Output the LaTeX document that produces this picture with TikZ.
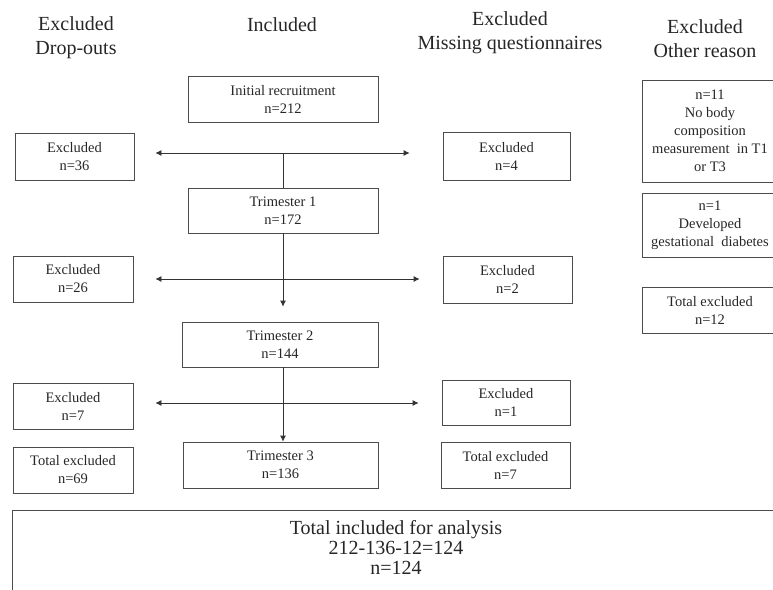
\documentclass[tikz,border=0pt]{standalone}
\usepackage{fontspec}
\setmainfont{Liberation Serif}
\usetikzlibrary{arrows.meta}
\begin{document}
\begin{tikzpicture}[x=1pt,y=-1pt,
  box/.style={draw=black!70, line width=0.8pt, inner sep=0pt, align=center, text=black!85, font=\fontsize{14.5}{18}\selectfont},
  head/.style={inner sep=0pt, align=center, text=black!85, font=\fontsize{20}{24}\selectfont},
  big/.style={inner sep=0pt, align=center, text=black!85, font=\fontsize{20}{20}\selectfont},
  conn/.style={draw=black!80, line width=0.8pt},
  arr/.style={conn, -{Latex[length=6pt,width=6pt]}}]
\clip (0,0) rectangle (773,589);
% headers
\node[head] (h1) at (76,38) {Excluded\\Drop-outs};
\node[head] (h2) at (282,25) {Included};
\node[head] (h3) at (510,33) {Excluded\\Missing questionnaires};
\node[head] (h4) at (705,39) {Excluded\\Other reason};
% boxes
\node[box, minimum width=190pt, minimum height=46pt] (init) at (283,99) {Initial recruitment\\n=212};
\node[box, minimum width=119pt, minimum height=47pt] (exc36) at (74.5,156.5) {Excluded\\n=36};
\node[box, minimum width=127pt, minimum height=48pt] (exc4) at (506.5,156) {Excluded\\n=4};
\node[box, minimum width=190pt, minimum height=45pt] (t1) at (283,210.5) {Trimester 1\\n=172};
\node[box, minimum width=120pt, minimum height=46pt] (exc26) at (73,279) {Excluded\\n=26};
\node[box, minimum width=129pt, minimum height=47pt] (exc2) at (507.5,279.5) {Excluded\\n=2};
\node[box, minimum width=196pt, minimum height=45pt] (t2) at (280,344.5) {Trimester 2\\n=144};
\node[box, minimum width=120pt, minimum height=46pt] (exc7) at (73,406) {Excluded\\n=7};
\node[box, minimum width=128pt, minimum height=45pt] (exc1) at (506,402.5) {Excluded\\n=1};
\node[box, minimum width=120pt, minimum height=46pt] (tot69) at (73,470) {Total excluded\\n=69};
\node[box, minimum width=195pt, minimum height=46pt] (t3) at (280.5,465) {Trimester 3\\n=136};
\node[box, minimum width=129pt, minimum height=46pt] (tot7) at (505.5,465) {Total excluded\\n=7};
% other reason column
\node[box, minimum width=136pt, minimum height=102pt] (n11) at (710,131) {n=11\\No body\\composition\\measurement\ \ in T1\\or T3};
\node[box, minimum width=136pt, minimum height=64pt] (n1) at (710,225) {n=1\\Developed\\gestational\ \ diabetes};
\node[box, minimum width=136pt, minimum height=46pt] (tot12) at (710,310) {Total excluded\\n=12};
% final box
\node[draw=black!70, line width=0.8pt, inner sep=0pt, minimum width=768pt, minimum height=100pt, anchor=north west] (final) at (12,510) {};
\node[big] (finaltext) at (396,547) {Total included for analysis\\212-136-12=124\\n=124};
% connectors
\coordinate (j1) at (283,153);
\coordinate (j2) at (283,279);
\coordinate (j3) at (283,403);
\draw[arr, shorten >=21pt] (j1) -- (j1 -| exc36.east);
\draw[arr, shorten >=33pt] (j1) -- (j1 -| exc4.west);
\draw[conn] (j1) -- (j1 |- t1.north);
\draw[arr, shorten >=22pt] (j2) -- (j2 -| exc26.east);
\draw[arr, shorten >=23pt] (j2) -- (j2 -| exc2.west);
\draw[arr, shorten >=15pt] (j2 |- t1.south) -- (j2 |- t2.north);
\draw[arr, shorten >=22pt] (j3) -- (j3 -| exc7.east);
\draw[arr, shorten >=23pt] (j3) -- (j3 -| exc1.west);
\draw[arr] (j3 |- t2.south) -- (j3 |- t3.north);
\end{tikzpicture}
\end{document}
